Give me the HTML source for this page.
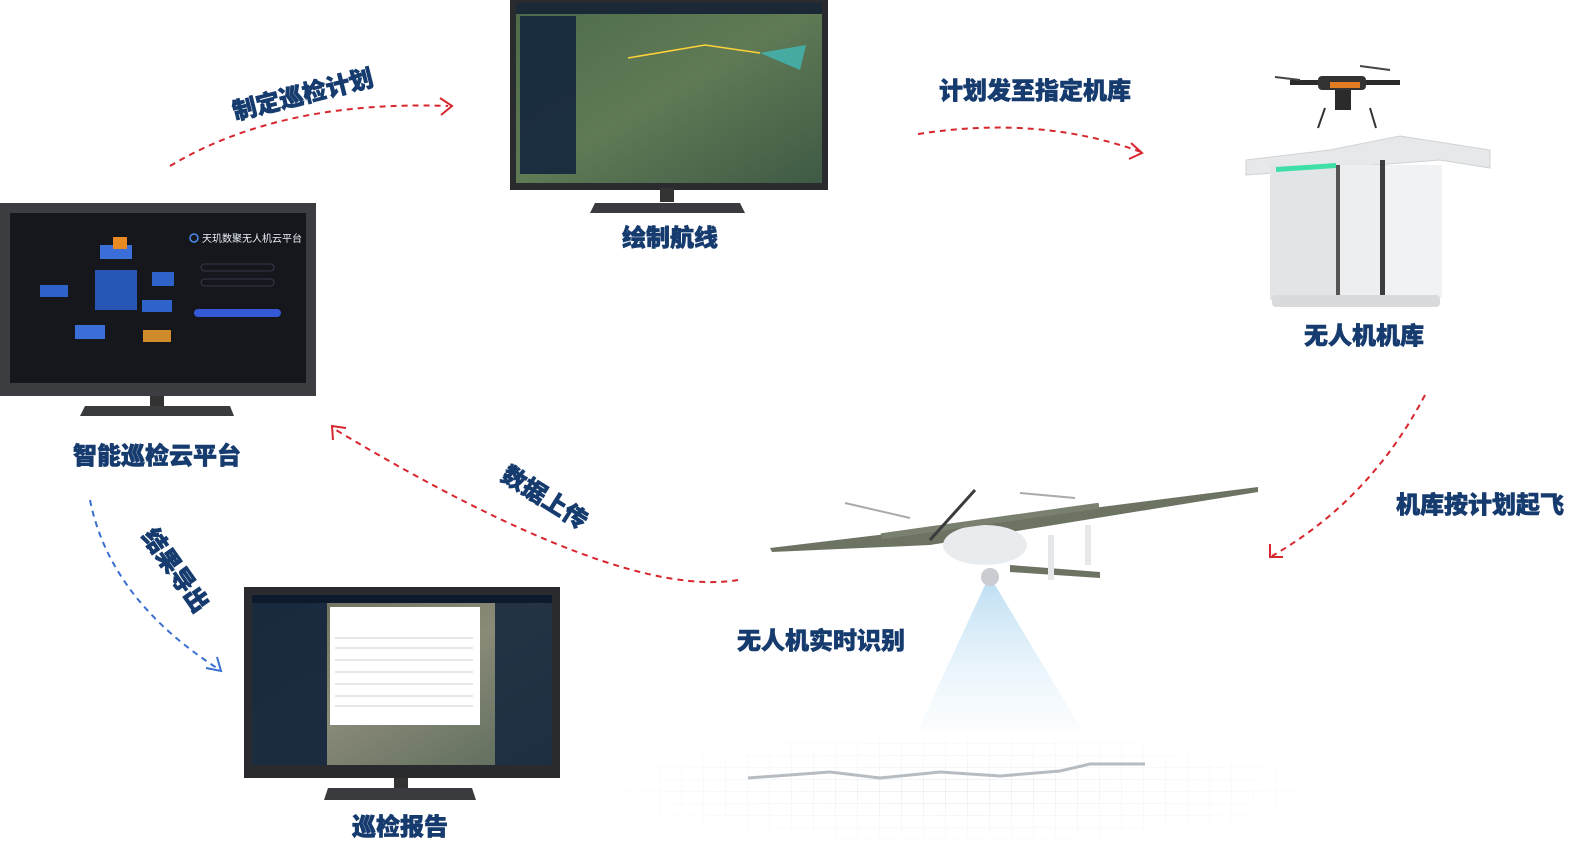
<!DOCTYPE html>
<html><head><meta charset="utf-8"><style>
html,body{margin:0;padding:0;background:#fff;}
svg{display:block}
text{font-family:"Liberation Sans","Noto Sans CJK SC",sans-serif;font-weight:900;fill:#163b6e;stroke:#163b6e;stroke-width:.6}
</style></head><body>
<svg width="1572" height="854" viewBox="0 0 1572 854" xmlns="http://www.w3.org/2000/svg">
<defs>
<linearGradient id="cone" x1="0" y1="0" x2="0" y2="1"><stop offset="0" stop-color="#b9dcf2" stop-opacity=".9"/><stop offset="1" stop-color="#e8f4fb" stop-opacity=".2"/></linearGradient>
<linearGradient id="sat" x1="0" y1="0" x2="1" y2="1"><stop offset="0" stop-color="#4d6b4a"/><stop offset=".5" stop-color="#5f7a55"/><stop offset="1" stop-color="#3f5a45"/></linearGradient>
<linearGradient id="sat2" x1="0" y1="0" x2="1" y2="1"><stop offset="0" stop-color="#6a6a5a"/><stop offset=".5" stop-color="#8a8a78"/><stop offset="1" stop-color="#5a6a5a"/></linearGradient>
<pattern id="grid" width="22" height="12" patternUnits="userSpaceOnUse"><path d="M22 0V12M0 12H22" stroke="#dde3e8" stroke-width="1" fill="none"/></pattern>
<radialGradient id="fade" cx=".5" cy=".5" r=".5"><stop offset="0" stop-color="#fff" stop-opacity="0"/><stop offset="1" stop-color="#fff" stop-opacity="1"/></radialGradient>
</defs>

<rect x="570" y="730" width="780" height="124" fill="url(#grid)"/>
<rect x="560" y="725" width="800" height="129" fill="url(#fade)"/>
<polyline points="748,778 830,772 880,778 940,772 1000,776 1060,771 1090,764 1145,764" fill="none" stroke="#b6bcc2" stroke-width="3"/>
<polygon points="985,585 995,585 1082,730 918,730" fill="url(#cone)"/>

<!-- top monitor -->
<rect x="510" y="0" width="318" height="190" fill="#2a2b2e"/>
<rect x="516" y="3" width="306" height="180" fill="url(#sat)"/>
<rect x="516" y="3" width="306" height="11" fill="#1b2836"/>
<rect x="520" y="16" width="56" height="158" fill="#14263d" opacity=".9"/>
<polyline points="628,58 705,45 760,53" fill="none" stroke="#ffd23a" stroke-width="1.5"/>
<polygon points="760,53 806,45 800,70" fill="#39d0d8" opacity=".6"/>
<rect x="660" y="188" width="14" height="14" fill="#333"/>
<polygon points="595,203 740,203 745,213 590,213" fill="#3a3b3e"/>

<!-- left monitor -->
<rect x="0" y="203" width="316" height="193" fill="#3c3d40"/>
<rect x="10" y="213" width="296" height="170" fill="#15171c"/>
<rect x="95" y="270" width="42" height="40" fill="#2756b6"/>
<rect x="100" y="245" width="32" height="14" fill="#3a6ed8"/>
<rect x="142" y="300" width="30" height="12" fill="#2e63c9"/>
<rect x="75" y="325" width="30" height="14" fill="#3a6ed8"/>
<rect x="40" y="285" width="28" height="12" fill="#2e63c9"/>
<rect x="152" y="272" width="22" height="14" fill="#2e63c9"/>
<rect x="143" y="330" width="28" height="12" fill="#d08a2a"/>
<rect x="113" y="237" width="14" height="12" fill="#e88a22"/>
<circle cx="194" cy="238" r="4" fill="none" stroke="#4a8cf0" stroke-width="1.5"/>
<text x="202" y="242" font-size="10" style="fill:#e8eef6;font-weight:normal;stroke:none">天玑数聚无人机云平台</text>
<rect x="201" y="264" width="73" height="7" rx="3.5" fill="none" stroke="#333a48"/>
<rect x="201" y="279" width="73" height="7" rx="3.5" fill="none" stroke="#333a48"/>
<rect x="194" y="309" width="87" height="8" rx="4" fill="#3558d6"/>
<rect x="150" y="396" width="14" height="10" fill="#333"/>
<polygon points="85,406 230,406 234,416 80,416" fill="#3a3b3e"/>

<!-- bottom monitor -->
<rect x="244" y="587" width="316" height="191" fill="#2a2b2e"/>
<rect x="252" y="595" width="300" height="170" fill="url(#sat2)"/>
<rect x="252" y="595" width="75" height="170" fill="#12243c" opacity=".92"/>
<rect x="495" y="595" width="57" height="170" fill="#12243c" opacity=".85"/>
<rect x="252" y="595" width="300" height="8" fill="#0d1a2c"/>
<rect x="330" y="607" width="150" height="118" fill="#fff"/>
<g stroke="#999" stroke-width=".6"><line x1="335" y1="638" x2="473" y2="638"/><line x1="335" y1="648" x2="473" y2="648"/><line x1="335" y1="660" x2="473" y2="660"/><line x1="335" y1="672" x2="473" y2="672"/><line x1="335" y1="684" x2="473" y2="684"/><line x1="335" y1="696" x2="473" y2="696"/><line x1="335" y1="706" x2="473" y2="706"/></g>
<rect x="394" y="778" width="14" height="10" fill="#333"/>
<polygon points="328,788 472,788 476,800 324,800" fill="#3a3b3e"/>

<!-- dock -->
<g>
<polygon points="1246,160 1330,150 1400,136 1490,150 1490,168 1440,160 1246,175" fill="#e6e8ea" stroke="#cfd3d6"/>
<rect x="1270" y="165" width="172" height="133" fill="#eceef0"/>
<rect x="1270" y="165" width="66" height="135" fill="#e2e5e7"/>
<rect x="1336" y="165" width="4" height="133" fill="#555"/>
<rect x="1380" y="160" width="5" height="140" fill="#3b3d40"/>
<rect x="1385" y="165" width="57" height="133" fill="#f1f2f3"/>
<polygon points="1276,167 1336,163 1336,168 1276,172" fill="#3ee0a8"/>
<rect x="1272" y="295" width="168" height="12" rx="4" fill="#d8dadc"/>
</g>
<g fill="#2b2b2b">
<rect x="1290" y="80" width="110" height="5"/>
<rect x="1318" y="76" width="48" height="14" rx="4" fill="#333"/>
<rect x="1330" y="82" width="30" height="6" fill="#e37d21"/>
<rect x="1335" y="90" width="16" height="20"/>
<line x1="1275" y1="77" x2="1300" y2="80" stroke="#444" stroke-width="2"/>
<line x1="1360" y1="66" x2="1390" y2="70" stroke="#444" stroke-width="2"/>
<line x1="1325" y1="108" x2="1318" y2="128" stroke="#333" stroke-width="2"/>
<line x1="1370" y1="108" x2="1376" y2="128" stroke="#333" stroke-width="2"/>
</g>

<!-- VTOL drone -->
<g>
<polygon points="770,548 920,530 1258,487 1258,492 930,545 772,552" fill="#6c7363"/>
<ellipse cx="985" cy="545" rx="42" ry="20" fill="#e9ecef"/>
<rect x="880" y="518" width="220" height="6" fill="#7a8070" transform="rotate(-8 990 521)"/>
<polygon points="1010,565 1100,572 1100,578 1010,572" fill="#6c7363"/>
<rect x="1048" y="535" width="6" height="45" fill="#e5e7e9"/>
<rect x="1085" y="525" width="6" height="40" fill="#e5e7e9"/>
<circle cx="990" cy="577" r="9" fill="#c9ccd0"/>
<line x1="930" y1="540" x2="975" y2="490" stroke="#3b3b3b" stroke-width="3"/>
<line x1="845" y1="503" x2="910" y2="518" stroke="#aaa" stroke-width="2"/>
<line x1="1020" y1="493" x2="1075" y2="498" stroke="#aaa" stroke-width="2"/>
</g>

<g fill="none" stroke="#d8262e" stroke-width="2" stroke-dasharray="6,5">
<path d="M170,166 Q280,100 448,106"/>
<path d="M918,134 Q1040,115 1141,152"/>
<path d="M1425,395 Q1370,500 1272,556"/>
<path d="M738,580 Q620,600 336,430"/>
</g>
<g fill="none" stroke="#d8262e" stroke-width="2">
<path d="M440,98 L452,106 L441,115"/>
<path d="M1131,143 L1142,153 L1129,159"/>
<path d="M1270,544 L1270,557 L1283,557"/>
<path d="M333,440 L332,426 L346,428"/>
</g>
<path d="M90,500 Q110,600 220,670" fill="none" stroke="#3a6fd0" stroke-width="2" stroke-dasharray="6,5"/>
<path d="M206,668 L221,671 L217,657" fill="none" stroke="#3a6fd0" stroke-width="2"/>

<text x="670" y="246" font-size="24" text-anchor="middle">绘制航线</text>
<text x="157" y="464" font-size="24" text-anchor="middle">智能巡检云平台</text>
<text x="400" y="835" font-size="24" text-anchor="middle">巡检报告</text>
<text x="1364" y="344" font-size="24" text-anchor="middle">无人机机库</text>
<text x="821" y="649" font-size="24" text-anchor="middle">无人机实时识别</text>
<text x="1035" y="99" font-size="24" text-anchor="middle">计划发至指定机库</text>
<text x="1480" y="513" font-size="24" text-anchor="middle">机库按计划起飞</text>
<text x="303" y="103" font-size="24" text-anchor="middle" transform="rotate(-14 303 95)">制定巡检计划</text>
<text x="545" y="506" font-size="24" text-anchor="middle" transform="rotate(32 545 497)">数据上传</text>
<text x="176" y="579" font-size="24" text-anchor="middle" transform="rotate(55 176 570)">结果导出</text>
</svg>
</body></html>
